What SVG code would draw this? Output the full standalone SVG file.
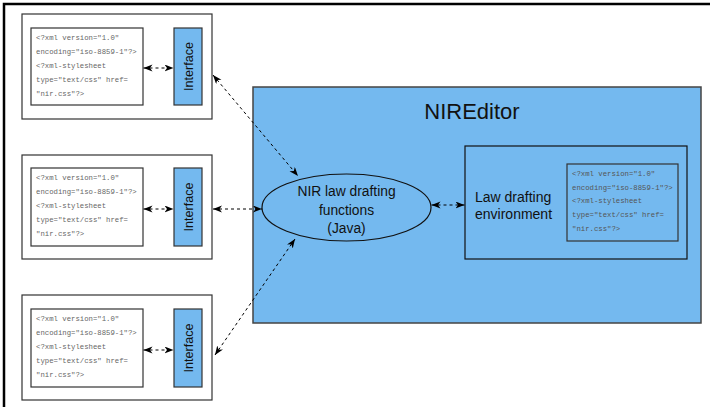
<svg xmlns="http://www.w3.org/2000/svg" width="710" height="407" viewBox="0 0 710 407">
<defs>
<marker id="ah" markerUnits="userSpaceOnUse" markerWidth="10" markerHeight="8" refX="9" refY="3.5" orient="auto-start-reverse">
<path d="M0,0 L9,3.5 L0,7 L2.5,3.5 z" fill="#000"/>
</marker>
</defs>
<style>
.frame{fill:none;stroke:#000;stroke-width:2.5}
.outer{fill:#fff;stroke:#333;stroke-width:1.2}
.xml{fill:#fff;stroke:#333;stroke-width:1.2}
.iface{fill:#74b9ef;stroke:#333;stroke-width:1.2}
.mono{font-family:"Liberation Mono",monospace;font-size:7.3px;fill:#666}
.mono2{font-family:"Liberation Mono",monospace;font-size:7.3px;fill:#555}
.sans{font-family:"Liberation Sans",Arial,sans-serif;fill:#111}
.conn{fill:none;stroke:#000;stroke-width:1;stroke-dasharray:3,3;marker-start:url(#ah);marker-end:url(#ah)}
</style>
<rect width="710" height="407" fill="#fff"/>
<path class="frame" d="M4,407 L4,4 L710,4"/>

<g id="client1">
<rect class="outer" x="22" y="14" width="190" height="105"/>
<rect class="xml" x="31" y="28" width="112" height="77"/>
<text class="mono" x="36"><tspan x="36" y="40">&lt;?xml version="1.0"</tspan><tspan x="36" y="54">encoding="iso-8859-1"?&gt;</tspan><tspan x="36" y="68">&lt;?xml-stylesheet</tspan><tspan x="36" y="82">type="text/css" href=</tspan><tspan x="36" y="96">"nir.css"?&gt;</tspan></text>
<rect class="iface" x="174" y="28" width="28" height="77"/>
<text class="sans" font-size="12.6" text-anchor="middle" transform="translate(192.5,66.5) rotate(-90)">Interface</text>
</g>

<g id="client2">
<rect class="outer" x="22" y="155" width="190" height="104"/>
<rect class="xml" x="31" y="168" width="112" height="78"/>
<text class="mono"><tspan x="36" y="180">&lt;?xml version="1.0"</tspan><tspan x="36" y="194">encoding="iso-8859-1"?&gt;</tspan><tspan x="36" y="208">&lt;?xml-stylesheet</tspan><tspan x="36" y="222">type="text/css" href=</tspan><tspan x="36" y="236">"nir.css"?&gt;</tspan></text>
<rect class="iface" x="174" y="168" width="28" height="78"/>
<text class="sans" font-size="12.6" text-anchor="middle" transform="translate(192.5,207) rotate(-90)">Interface</text>
</g>

<g id="client3">
<rect class="outer" x="22" y="295" width="190" height="105"/>
<rect class="xml" x="31" y="309" width="112" height="78"/>
<text class="mono"><tspan x="36" y="321">&lt;?xml version="1.0"</tspan><tspan x="36" y="335">encoding="iso-8859-1"?&gt;</tspan><tspan x="36" y="349">&lt;?xml-stylesheet</tspan><tspan x="36" y="363">type="text/css" href=</tspan><tspan x="36" y="377">"nir.css"?&gt;</tspan></text>
<rect class="iface" x="174" y="309" width="28" height="78"/>
<text class="sans" font-size="12.6" text-anchor="middle" transform="translate(192.5,348) rotate(-90)">Interface</text>
</g>

<g id="nireditor">
<rect x="253" y="87" width="448" height="236" fill="#74b9ef" stroke="#444" stroke-width="1.5"/>
<text class="sans" x="472" y="119" font-size="22" text-anchor="middle">NIREditor</text>
</g>

<g id="functions">
<ellipse cx="346.5" cy="207.5" rx="84.5" ry="33.5" fill="#74b9ef" stroke="#111" stroke-width="1.2"/>
<text class="sans" font-size="13.8" text-anchor="middle"><tspan x="346.5" y="196">NIR law drafting</tspan><tspan x="346.5" y="214.5">functions</tspan><tspan x="346.5" y="233">(Java)</tspan></text>
</g>

<g id="environment">
<rect x="465" y="146" width="222" height="113" fill="#74b9ef" stroke="#111" stroke-width="1.2"/>
<text class="sans" font-size="14"><tspan x="475" y="202">Law drafting</tspan><tspan x="475" y="219">environment</tspan></text>
<rect x="567" y="164" width="111" height="77" fill="#74b9ef" stroke="#333" stroke-width="1.2"/>
<text class="mono2"><tspan x="572" y="176">&lt;?xml version="1.0"</tspan><tspan x="572" y="189.5">encoding="iso-8859-1"?&gt;</tspan><tspan x="572" y="203">&lt;?xml-stylesheet</tspan><tspan x="572" y="217">type="text/css" href=</tspan><tspan x="572" y="230.5">"nir.css"?&gt;</tspan></text>
</g>

<g id="connectors">
<line class="conn" x1="143.5" y1="68" x2="173.5" y2="68"/>
<line class="conn" x1="143.5" y1="209" x2="173.5" y2="209"/>
<line class="conn" x1="143.5" y1="350" x2="173.5" y2="350"/>
<line class="conn" x1="213" y1="75" x2="298" y2="176"/>
<line class="conn" x1="213" y1="209" x2="262" y2="209"/>
<line class="conn" x1="215" y1="355" x2="295" y2="239"/>
<line class="conn" x1="431.5" y1="205" x2="464.5" y2="205"/>
</g>
</svg>
